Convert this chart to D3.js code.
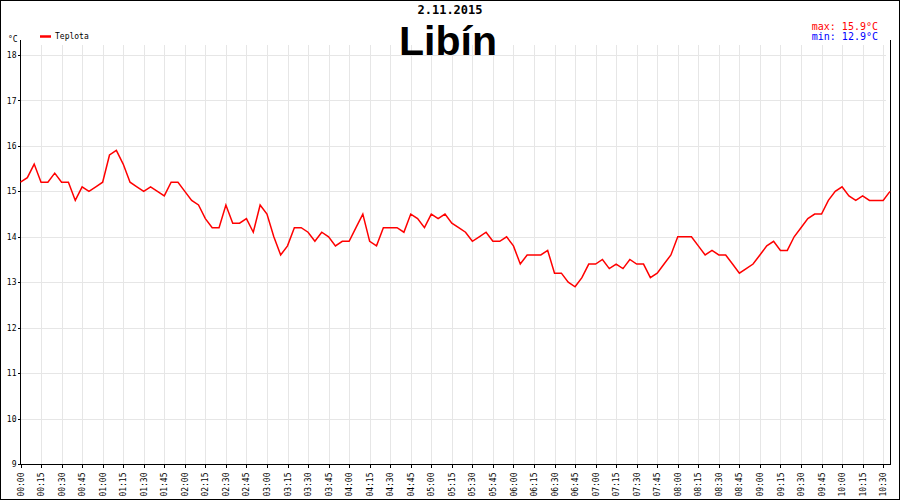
<!DOCTYPE html>
<html>
<head>
<meta charset="utf-8">
<script src="https://cdn.jsdelivr.net/npm/d3@7"></script>
<style>
  html, body { margin: 0; padding: 0; background: #fff; }
  svg { display: block; }
  text { font-family: "DejaVu Sans Mono", monospace; }
</style>
</head>
<body>
<svg id="chart" width="900" height="500"></svg>
<script>
// ---- data ----
const dateLabel = "2.11.2015";
const stationName = "Libín";
const seriesName = "Teplota";
const stepMinutes = 5;
const temps = [
  15.2,15.3,15.6,15.2,15.2,15.4,15.2,15.2,14.8,15.1,
  15.0,15.1,15.2,15.8,15.9,15.6,15.2,15.1,15.0,15.1,
  15.0,14.9,15.2,15.2,15.0,14.8,14.7,14.4,14.2,14.2,
  14.7,14.3,14.3,14.4,14.1,14.7,14.5,14.0,13.6,13.8,
  14.2,14.2,14.1,13.9,14.1,14.0,13.8,13.9,13.9,14.2,
  14.5,13.9,13.8,14.2,14.2,14.2,14.1,14.5,14.4,14.2,
  14.5,14.4,14.5,14.3,14.2,14.1,13.9,14.0,14.1,13.9,
  13.9,14.0,13.8,13.4,13.6,13.6,13.6,13.7,13.2,13.2,
  13.0,12.9,13.1,13.4,13.4,13.5,13.3,13.4,13.3,13.5,
  13.4,13.4,13.1,13.2,13.4,13.6,14.0,14.0,14.0,13.8,
  13.6,13.7,13.6,13.6,13.4,13.2,13.3,13.4,13.6,13.8,
  13.9,13.7,13.7,14.0,14.2,14.4,14.5,14.5,14.8,15.0,
  15.1,14.9,14.8,14.9,14.8,14.8,14.8,15.0
];
const xTickLabels = [
  "00:00","00:15","00:30","00:45","01:00","01:15","01:30","01:45",
  "02:00","02:15","02:30","02:45","03:00","03:15","03:30","03:45",
  "04:00","04:15","04:30","04:45","05:00","05:15","05:30","05:45",
  "06:00","06:15","06:30","06:45","07:00","07:15","07:30","07:45",
  "08:00","08:15","08:30","08:45","09:00","09:15","09:30","09:45",
  "10:00","10:15","10:30"
];
const yTicks = [9,10,11,12,13,14,15,16,17,18];
const yDomain = [9, 18];

// ---- layout ----
const svg = d3.select("#chart");
const W = 900, H = 500;
const left = 20, right = 890, bottom = 464, topAxis = 40, gridTop = 45;

const toMin = s => { const [h, m] = s.split(":").map(Number); return h * 60 + m; };
const points = temps.map((v, i) => ({ t: i * stepMinutes, v }));
const lastT = points[points.length - 1].t;

const x = d3.scaleLinear().domain([0, lastT]).range([left + 0.5, right]);
const y = d3.scaleLinear().domain(yDomain).range([bottom, 55]);

// frame
svg.append("rect").attr("x", 0.5).attr("y", 0.5).attr("width", W - 1).attr("height", H - 1)
  .attr("fill", "#fff").attr("stroke", "#000").attr("stroke-width", 1);

// grid
const grid = svg.append("g").attr("stroke", "#e6e6e6").attr("stroke-width", 1).attr("shape-rendering", "crispEdges");
grid.selectAll("line.h").data(yTicks.filter(d => d !== yDomain[0])).join("line")
  .attr("x1", left).attr("x2", right - 4)
  .attr("y1", d => Math.round(y(d)) + 0.5).attr("y2", d => Math.round(y(d)) + 0.5);
grid.selectAll("line.v").data(xTickLabels.slice(1)).join("line")
  .attr("x1", d => Math.round(x(toMin(d))) + 0.5).attr("x2", d => Math.round(x(toMin(d))) + 0.5)
  .attr("y1", gridTop).attr("y2", bottom);

// y axis
const yAxis = d3.axisLeft(y).tickValues(yTicks).tickSize(3).tickFormat(d3.format("d"));
const gy = svg.append("g").attr("transform", `translate(${left + 0.5},0)`).call(yAxis);
gy.select(".domain").remove();
gy.selectAll("text").attr("font-size", 8).attr("fill", "#000").attr("x", -4)
  .style("font-family", "'DejaVu Sans Mono', monospace");
gy.selectAll(".tick line").attr("stroke", "#000").attr("shape-rendering", "crispEdges");
svg.append("line").attr("x1", left + 0.5).attr("x2", left + 0.5).attr("y1", topAxis).attr("y2", bottom)
  .attr("stroke", "#000").attr("shape-rendering", "crispEdges");

// right border
svg.append("line").attr("x1", right + 0.5).attr("x2", right + 0.5).attr("y1", topAxis).attr("y2", bottom)
  .attr("stroke", "#000").attr("shape-rendering", "crispEdges");

// x axis
const xAxis = d3.axisBottom(x).tickValues(xTickLabels.map(toMin)).tickSize(3)
  .tickFormat((d, i) => xTickLabels[i]);
const gx = svg.append("g").attr("transform", `translate(0,${bottom + 0.5})`).call(xAxis);
gx.select(".domain").remove();
gx.selectAll(".tick line").attr("stroke", "#000").attr("shape-rendering", "crispEdges");
gx.selectAll("text").attr("font-size", 8).attr("fill", "#000")
  .style("font-family", "'DejaVu Sans Mono', monospace")
  .attr("text-anchor", "end").attr("transform", "rotate(-90)")
  .attr("x", -8).attr("y", 0).attr("dy", "0.32em");
svg.append("line").attr("x1", left).attr("x2", right + 1).attr("y1", bottom + 0.5).attr("y2", bottom + 0.5)
  .attr("stroke", "#000").attr("shape-rendering", "crispEdges");

// unit
svg.append("text").attr("x", 8).attr("y", 42).attr("font-size", 8).text("°C");

// line
const line = d3.line().x(d => x(d.t)).y(d => y(d.v));
svg.append("path").datum(points).attr("d", line)
  .attr("fill", "none").attr("stroke", "#ff0000").attr("stroke-width", 1.5)
  .attr("stroke-linejoin", "miter");

// legend
svg.append("line").attr("x1", 40).attr("x2", 51).attr("y1", 36.5).attr("y2", 36.5)
  .attr("stroke", "#ff0000").attr("stroke-width", 2.5);
svg.append("text").attr("x", 55).attr("y", 39).attr("font-size", 8).text(seriesName);

// titles
svg.append("text").attr("x", 450).attr("y", 14).attr("text-anchor", "middle")
  .attr("font-size", 12).attr("font-weight", "bold").text(dateLabel);
svg.append("text").attr("x", 448).attr("y", 55).attr("text-anchor", "middle")
  .style("font-family", "'Liberation Sans', Arial, sans-serif")
  .attr("font-size", 41).attr("font-weight", "bold").text(stationName);

// max / min
const vmax = d3.max(temps), vmin = d3.min(temps);
svg.append("text").attr("x", 878).attr("y", 30).attr("text-anchor", "end")
  .attr("font-size", 10).attr("fill", "#ff0000").text(`max: ${vmax.toFixed(1)}°C`);
svg.append("text").attr("x", 878).attr("y", 40).attr("text-anchor", "end")
  .attr("font-size", 10).attr("fill", "#0000ff").text(`min: ${vmin.toFixed(1)}°C`);
</script>
</body>
</html>
